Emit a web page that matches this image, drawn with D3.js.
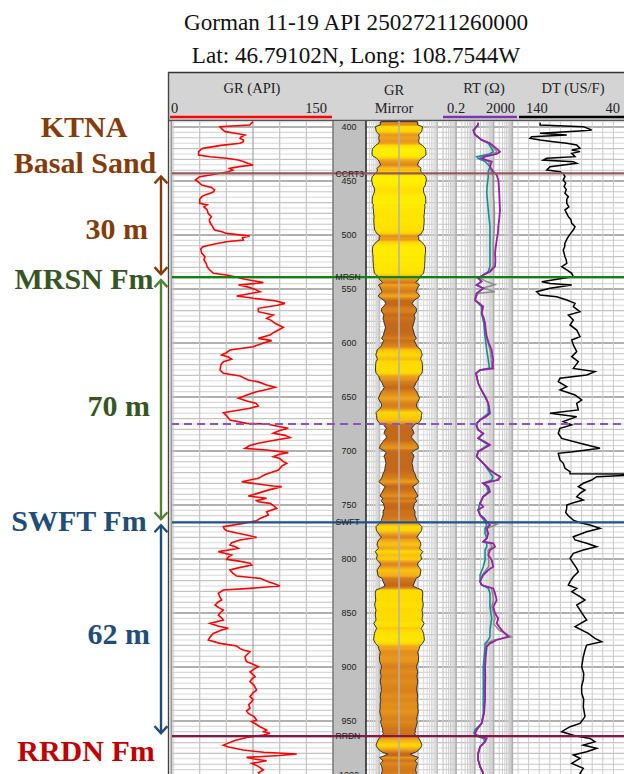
<!DOCTYPE html>
<html><head><meta charset="utf-8">
<script src="https://cdn.jsdelivr.net/npm/d3@7"></script>
<style>body{margin:0;background:#fff;} svg{display:block;}</style>
</head><body>
<svg id="c" width="624" height="774"></svg>
<script>
// ---------------- DATA ----------------
const titleLines = ["Gorman 11-19 API 25027211260000", "Lat: 46.79102N, Long: 108.7544W"];
const depthTicks = [400,450,500,550,600,650,700,750,800,850,900,950,1000];
const formationNames = ["CCRT3","MRSN","SWFT","RRDN"];
const formationDepths = [443, 539, 766, 964];
const markerDepth = 675;
const unitNames = ["KTNA", "Basal Sand", "MRSN Fm", "SWFT Fm", "RRDN Fm"];
const unitThickness = ["30 m", "70 m", "62 m"];
const grRange = [0, 150];
const rtRange = [0.2, 2000];
const dtRange = [140, 40];

// Gamma ray (API) by depth
const grLog = [[395,75],[398.1,72],[399.7,44],[402,46],[404.3,49],[406,60],[407.4,67.5],[409,64],[410.5,63],[412,66],[413.6,66],[415.1,63],[417,45],[419.8,28],[421,26],[422.8,24],[425.9,24],[427.5,35],[429,50],[430.6,61],[432,66],[433.6,70],[435.2,75],[436.7,62],[438.3,53],[440,56],[441.4,52],[442.9,44],[444.5,35],[446,25],[449.1,21],[451,24],[453.7,27],[456,36],[458.3,39],[460,38],[461.4,35],[463,30],[464.5,27],[467,25],[470.7,25],[472.2,32],[474,29],[476.9,32],[480,33],[483,36],[486,34],[489.2,35],[492,37],[495.4,39],[497,46],[498.5,50],[500.9,72],[502.5,65],[504.6,66],[506.2,50],[508.5,38],[510.8,28],[513,26],[517,27],[520,30],[523.1,29],[526,31],[529.3,32],[532,34],[535.5,38],[537,50],[538.6,58],[541,67.5],[544.1,84.7],[546.3,61.3],[547.8,69],[550,76],[552.5,81.6],[556.5,59.7],[558.6,75.3],[560.8,95.6],[563.3,105],[565,98],[567.9,80],[571,80],[574.1,94],[577.2,87.8],[579,92],[581.8,95.6],[585.5,103.4],[588,98.8],[590,95],[592.6,90.9],[595.7,80],[597.8,92.5],[600,85],[603.4,75.3],[606.5,53.4],[609,50],[611.1,45.6],[613,52],[615.1,55],[617.3,47.2],[620,45],[625,44.1],[628.1,47.2],[630.5,62.8],[634.3,70.6],[636,80],[638.9,87.8],[641,95.6],[643,88],[645.1,78.4],[648,70],[651.2,61.3],[654,70],[656,78],[658.3,80],[660.5,72.2],[664.5,47.2],[667,50],[671.3,53.4],[674.4,69],[675,87.8],[677,98],[679,108.1],[681,100],[683.6,94],[685.5,105],[687.6,109.7],[690,95],[692.9,80],[695,72],[697.5,67.5],[699.1,87.8],[701.5,108.1],[703,100],[705.2,94],[707,100],[709.9,103.4],[711.4,106.6],[714,102],[717.6,98.8],[720,92],[722,86],[725.3,80],[728.4,64.4],[730,75],[732.4,94],[733,101.9],[736,90],[739,80],[741.7,70.6],[743.8,87.8],[746,78.4],[747,80],[748.5,90.9],[751,95],[753.1,97.2],[756.2,87.8],[759.3,89.4],[762.4,81.6],[764.5,78.4],[767,66],[770.1,47.2],[772,48],[773.8,50.3],[776,60],[777.8,69],[780,78.4],[782.4,62.8],[785,55],[787.1,53.4],[788.5,58],[790.2,61.3],[793.2,42.5],[796.3,55],[798,52],[800.3,50.3],[802,62],[804,72.2],[805.6,73.8],[808,62],[810.2,53.4],[813,56],[815.8,59.7],[817.9,81.6],[821,89.4],[823,95],[825,100.3],[827.2,72.2],[828.7,47.2],[831.8,42.5],[835,44],[838,45.6],[840,42],[842.6,39.4],[845,43],[847.3,47.2],[850,44],[851.9,42.5],[854,45],[856.5,47.2],[859.6,34.7],[862,42],[864.2,51.9],[866,45],[868.9,37.8],[872,35],[875,33.1],[878.1,44.1],[880.6,59.7],[883,63],[884.3,66],[885.8,72.2],[888,70],[890.5,67.5],[893,68],[895.1,69],[897,74],[899.7,80],[902,76],[904.4,72.2],[907,75],[909,76.9],[911,74],[913.6,72.2],[917,76],[921.3,78.4],[924,75],[927.5,72.2],[930,75],[932.1,73.8],[935,71],[938.3,72.2],[940.5,69],[942.9,70.6],[946,76],[949.1,78.4],[950.6,73.8],[953,78],[955.3,81.6],[958.4,87.8],[960,85],[961.4,90.9],[963,85],[965.2,69],[968,58],[972.3,47.2],[974,52],[976.9,66],[979,85],[980.6,116],[982,100],[983.7,69],[985,75],[986.8,87.8],[989.2,73.8],[992,80],[995.4,84.7],[998,80],[1001,82]];

// Deep resistivity (ohm-m)
const rtDeep = [[396,15],[398,15],[403,8.3],[407,10],[412,23],[415,64],[420,146],[423,219],[425,146],[427.5,35],[429,23],[430.6,43],[432,79],[436.7,64],[441.4,96],[444.4,146],[449,178],[455,190],[461,200],[470,210],[477,219],[485,200],[492,178],[498,170],[505,146],[511,130],[517,119],[523,125],[529,119],[534,64],[537,28],[540,15],[543,23],[546.3,12.5],[549.4,28],[554,12.5],[560.2,10.2],[566.4,28],[572.5,23],[577,30],[581.8,35],[588,38],[594.1,43],[600,55],[606.5,79],[611,85],[615.7,96],[620,90],[623.5,96],[625,19],[628.1,11.5],[632,13],[637.3,15],[642,20],[646.6,28],[651,40],[655.9,52],[660,58],[665.1,64],[668,40],[671.3,19],[675.3,11.5],[680.5,15],[683.6,28],[688.3,15],[691,30],[694.4,64],[697,35],[700.6,15],[705.2,12.5],[711.4,28],[714,40],[717.6,64],[721,120],[723.8,219],[726.9,178],[729.9,28],[733,52],[737.6,64],[742.3,28],[745.4,23],[748.4,19],[751.6,28],[754.6,15],[759.3,19],[762,30],[765.5,43],[768.5,64],[771.6,43],[776.3,52],[780.9,43],[784,28],[785.5,96],[788.6,119],[791.7,64],[796.3,52],[801,79],[807.1,96],[810.2,52],[814.8,28],[821,19],[824.1,23],[827.2,96],[831.8,119],[838,146],[844.2,96],[850.3,119],[855,178],[859.6,146],[865.8,270],[871.9,608],[875,146],[878.1,64],[881.2,43],[890,38],[899.7,35],[910,36],[920,35],[930.6,35],[942.9,31],[952.2,23],[958.4,12.5],[961.4,10.2],[963.6,12.5],[966.1,43],[969.2,35],[973.8,19],[980,15],[986.1,15],[992.3,19],[998.5,28],[1001,25]];
// Medium resistivity (ohm-m)
const rtMedium = [[396,15],[398,15],[403,8.3],[407,10],[412,23],[415,52],[420,79],[423,96],[425,60],[427.5,12.5],[429,15],[432,35],[436.7,64],[441.4,52],[446,52],[455,45],[461,43],[470,48],[477,52],[485,58],[492,64],[505,64],[517,64],[529,64],[534,52],[537,28],[540,15],[543,23],[546.3,12.5],[549.4,28],[554,12.5],[560.2,10],[566.4,23],[572.5,23],[581.8,30],[594.1,35],[606.5,43],[615.7,52],[623.5,60],[625,19],[628.1,11.5],[637.3,15],[646.6,28],[655.9,52],[665.1,52],[671.3,19],[675.3,11.5],[680.5,15],[683.6,28],[688.3,15],[694.4,52],[700.6,15],[705.2,12.5],[711.4,28],[717.6,52],[723.8,90],[726.9,79],[729.9,28],[733,43],[737.6,52],[742.3,28],[748.4,19],[754.6,15],[759.3,19],[765.5,35],[768.5,43],[771.6,35],[776.3,35],[780.9,43],[784,28],[785.5,43],[788.6,43],[791.7,35],[801,35],[807.1,28],[814.8,19],[821,19],[824.1,23],[827.2,52],[831.8,64],[838,64],[844.2,64],[855,79],[865.8,64],[871.9,64],[875,52],[878.1,35],[881.2,35],[899.7,28],[930.6,28],[942.9,28],[952.2,23],[958.4,10],[961.4,9],[963.6,11],[966.1,28],[969.2,35],[973.8,19],[980,15],[986.1,15],[992.3,19],[998.5,28],[1001,25]];
// Shallow resistivity (ohm-m)
const rtShallow = [[396,15],[398,15],[403,9],[407,10],[412,23],[415,60],[420,110],[423,150],[425,100],[427.5,20],[429,18],[432,55],[437,64],[441,75],[446,96],[461,96],[477,110],[492,110],[505,96],[517,96],[529,96],[534,60],[537,28],[540,20],[543,40],[546,119],[549,28],[552.5,119],[554,15],[560,10],[566,26],[572,23],[582,33],[594,40],[606,64],[615,75],[623,80],[625,19],[628,11.5],[637,15],[647,28],[656,52],[665,58],[671,19],[675,11.5],[680,15],[684,28],[688,15],[694,58],[700,15],[705,12.5],[711,28],[718,58],[724,250],[727,130],[730,28],[733,48],[738,58],[742,28],[748,19],[755,15],[760,19],[765,40],[768,150],[772,40],[776,45],[781,43],[784,28],[786,70],[789,80],[792,50],[801,55],[807,55],[815,24],[821,19],[824,23],[827,75],[832,90],[838,100],[844,80],[855,120],[860,100],[866,200],[872,900],[875,100],[878,45],[881,40],[900,32],[931,32],[943,30],[952,23],[958,11],[962,10],[966,35],[969,35],[974,19],[980,15],[986,15],[992,19],[998,28],[1001,25]];

// Sonic (us/ft)
const dtLog = [[396,119],[398.2,119.2],[399.7,78.4],[402.8,70.5],[403.4,78.4],[404.3,94],[405.9,119.2],[407.4,94],[409,127.1],[410.5,128.7],[412,119.2],[413.6,106.7],[415.1,94],[416.7,84.6],[419.8,81.5],[421.3,89.3],[422.8,81.5],[424.4,89.3],[427.5,86.2],[429,112.9],[430.6,116.1],[432.1,87.8],[433.6,84.6],[436.7,109.8],[439.8,112.9],[441.4,100.4],[442.9,97.3],[446,95.7],[449.1,97.3],[452,95],[455,96.5],[458,94.5],[461.4,95.7],[464.5,92.5],[467,94],[470.7,94],[474,92],[476.9,95.7],[480,94],[483,92.5],[486,90],[489.2,89.3],[492.3,86.2],[495.4,87.8],[498,90],[501.5,92.5],[504,94],[507.7,95.7],[511,96],[513.9,97.3],[517,96.5],[520.1,95.7],[523,94.5],[526.2,94],[529.3,98.8],[532.4,94],[535.5,89.3],[538.6,87.8],[540.1,97.3],[543.2,117.6],[544.8,109.8],[546.3,89.3],[549.4,109.8],[552.5,122.4],[555.5,119.2],[557.1,103.5],[560.2,94],[563.3,86.2],[566.4,87.8],[571,81.5],[574.1,92.5],[578.7,87.8],[583.3,90.9],[588,84.6],[594.1,81.5],[597.2,89.3],[601.8,87.8],[608,84.6],[612.6,89.3],[617.3,83.1],[623.5,87.8],[626.5,67.4],[629.6,75.2],[632.7,100.4],[635.8,102],[640.4,94],[643.5,100.4],[648.1,86.2],[652.8,79.9],[655.9,84.6],[662,83.1],[665.1,109.8],[668.2,84.6],[672.8,97.3],[675.9,89.3],[679,100.4],[683.6,102],[688.3,98.8],[692.9,81.5],[697.5,62.6],[700.6,87.8],[702.2,102],[708.3,100.4],[711.4,97.3],[716,95.7],[719.1,90.9],[721,90.9],[721.3,35],[722.5,35],[723.8,65.8],[726.9,70.5],[729.9,78.4],[733,83.1],[736.1,76.8],[739.2,81.5],[742.3,84.6],[745.4,78.4],[748,87.8],[750,94],[753,94],[757,95],[760,92.5],[764,87.8],[766.4,81.5],[768.5,72.1],[771.6,62.6],[774.7,75.2],[779.4,87.8],[782.4,86.2],[785.5,75.2],[788.6,65.8],[791.7,78.4],[794.8,87.8],[799.4,90.9],[804,87.8],[808.7,84.6],[811.8,83.1],[816.4,87.8],[821,90.9],[824.1,92.5],[827.2,84.6],[830.3,89.3],[834.9,81.5],[838,76.8],[842.6,84.6],[847.3,81.5],[851.9,78.4],[856.5,75.2],[862.7,86.2],[868.9,73.7],[873.5,67.4],[876.6,61],[879.7,75.2],[884.3,76.8],[890.5,78.4],[899.7,79.9],[906,78],[912,78.4],[918,80],[924.4,79.9],[930,78],[936.8,78.4],[946,76.8],[952.2,81.5],[955.3,90.9],[959.9,98.8],[963.6,86.2],[966.1,72.1],[969.2,67.4],[972.3,78.4],[975.3,65.8],[978.4,75.2],[981.5,87.8],[984.6,81.5],[989.2,89.3],[993.9,78.4],[998.5,81.5],[1001,80]];

// ---------------- DRAW ----------------
const svg = d3.select("#c");
const TOP = 121, BOT = 774;
const y = d3.scaleLinear().domain([400, 1000]).range([127, 775]);
const xGR = d3.scaleLinear().domain(grRange).range([173, 333]);
const xRT = d3.scaleLog().domain(rtRange).range([443, 518]);
const xMirLog = d3.scaleLog().domain(rtRange).range([366, 443]);
const xDT = d3.scaleLinear().domain(dtRange).range([518, 624]);
const mirrorCx = 399;
const halfW = d3.scaleLinear().domain(grRange).range([31, 5.5]);
const grColor = d3.scaleLinear().domain([20, 48, 60, 75, 95]).range(["#fff200","#ffd800","#f2a81e","#dc861c","#c4691a"]).clamp(true);

const serif = "'Liberation Serif','Times New Roman',serif";
const sans = "'Liberation Sans',Arial,sans-serif";

// titles
svg.selectAll("text.title").data(titleLines).join("text")
  .attr("x", 356).attr("y", (d,i) => 30 + i*33)
  .attr("text-anchor","middle").attr("font-family", serif).attr("font-size", 23.2)
  .attr("fill","#111").text(d => d);

// header
svg.append("rect").attr("x",168).attr("y",72).attr("width",456).attr("height",49).attr("fill","#d4d4d4");
svg.append("line").attr("x1",168).attr("x2",624).attr("y1",72.5).attr("y2",72.5).attr("stroke","#333").attr("stroke-width",1.5);
svg.append("line").attr("x1",168).attr("x2",624).attr("y1",120.5).attr("y2",120.5).attr("stroke","#555").attr("stroke-width",1.5);
const hdr = svg.append("g").attr("font-family", serif).attr("font-size", 14.5).attr("fill","#222");
hdr.append("text").attr("x",252).attr("y",93).attr("text-anchor","middle").text("GR (API)");
hdr.append("text").attr("x",171).attr("y",113).text(grRange[0]);
hdr.append("text").attr("x",327).attr("y",113).attr("text-anchor","end").text(grRange[1]);
hdr.append("text").attr("x",394).attr("y",95).attr("text-anchor","middle").text("GR");
hdr.append("text").attr("x",394).attr("y",113).attr("text-anchor","middle").text("Mirror");
hdr.append("text").attr("x",484).attr("y",93).attr("text-anchor","middle").text("RT (\u03A9)");
hdr.append("text").attr("x",447).attr("y",113).text(rtRange[0]);
hdr.append("text").attr("x",515).attr("y",113).attr("text-anchor","end").text(rtRange[1]);
hdr.append("text").attr("x",573).attr("y",93).attr("text-anchor","middle").text("DT (US/F)");
hdr.append("text").attr("x",526).attr("y",113).text(dtRange[0]);
hdr.append("text").attr("x",620).attr("y",113).attr("text-anchor","end").text(dtRange[1]);
svg.append("line").attr("x1",170).attr("x2",332).attr("y1",117).attr("y2",117).attr("stroke","#ff0000").attr("stroke-width",2.5);
svg.append("line").attr("x1",443).attr("x2",517).attr("y1",117).attr("y2",117).attr("stroke","#7a35b0").attr("stroke-width",2.5);
svg.append("line").attr("x1",519).attr("x2",624).attr("y1",117).attr("y2",117).attr("stroke","#000").attr("stroke-width",2.5);

// tracks background
const body = svg.append("g");
body.append("rect").attr("x",171).attr("y",TOP).attr("width",453).attr("height",BOT-TOP).attr("fill","#fff");
// horizontal grid
const hDepths = d3.range(395, 1001, 5);
const hLine = (g, x1, x2) => g.selectAll("line").data(hDepths).join("line")
  .attr("x1",x1).attr("x2",x2).attr("y1",d=>y(d)).attr("y2",d=>y(d))
  .attr("stroke", d => d%50===0 ? "#b0b0b0" : (d%10===0 ? "#c4c4c4" : "#d8d8d8"))
  .attr("stroke-width", d => d%50===0 ? 1.8 : 1.1);
hLine(body.append("g"), 171, 333);
hLine(body.append("g"), 366, 624);
// GR vertical grid
body.append("g").selectAll("line").data(d3.range(0,151,25)).join("line")
  .attr("x1",d=>xGR(d)).attr("x2",d=>xGR(d)).attr("y1",TOP).attr("y2",BOT)
  .attr("stroke", d=> d===75 ? "#aaaaaa" : "#c6c6c6").attr("stroke-width",1.3);
// log grids (mirror & RT)
const logVals = [];
[0.1,1,10,100,1000].forEach(dec => { for (let k=1;k<10;k++){ const v=k*dec; if (v>=0.2 && v<=2000) logVals.push(v);} });
[[xMirLog,"#d6d6d6","#c0c0c0"],[xRT,"#cccccc","#b0b0b0"]].forEach(([sc,c1,c2]) => {
  body.append("g").selectAll("line").data(logVals).join("line")
    .attr("x1",d=>sc(d)).attr("x2",d=>sc(d)).attr("y1",TOP).attr("y2",BOT)
    .attr("stroke", d => Math.abs(Math.log10(d)-Math.round(Math.log10(d)))<1e-6 ? c2 : c1)
    .attr("stroke-width", d => Math.abs(Math.log10(d)-Math.round(Math.log10(d)))<1e-6 ? 1.6 : 1);
});
// DT grid
body.append("g").selectAll("line").data(d3.range(130,40,-10)).join("line")
  .attr("x1",d=>xDT(d)).attr("x2",d=>xDT(d)).attr("y1",TOP).attr("y2",BOT)
  .attr("stroke","#cacaca").attr("stroke-width",1);

// clip paths
const defs = svg.append("defs");
const addClip = (id,x0,x1) => defs.append("clipPath").attr("id",id).append("rect").attr("x",x0).attr("y",TOP).attr("width",x1-x0).attr("height",BOT-TOP);
addClip("cGR",171,333); addClip("cMir",366,443); addClip("cRT",443,518); addClip("cDT",518,624);

// GR mirror fill
const y0 = y(grLog[0][0]), y1 = y(grLog[grLog.length-1][0]);
const grad = defs.append("linearGradient").attr("id","mg").attr("gradientUnits","userSpaceOnUse")
  .attr("x1",0).attr("x2",0).attr("y1",y0).attr("y2",y1);
grad.selectAll("stop").data(grLog).join("stop")
  .attr("offset", d => (y(d[0])-y0)/(y1-y0)).attr("stop-color", d => grColor(d[1]));
const mirArea = d3.area().y(d=>y(d[0])).x0(d=>mirrorCx-halfW(d[1])).x1(d=>mirrorCx+halfW(d[1]));
body.append("path").datum(grLog).attr("clip-path","url(#cMir)").attr("d",mirArea)
  .attr("fill","url(#mg)").attr("stroke","#222").attr("stroke-width",0.9);
body.append("line").attr("x1",mirrorCx).attr("x2",mirrorCx).attr("y1",TOP).attr("y2",BOT).attr("stroke","#b0b0b0").attr("stroke-width",1.5);

// depth track
body.append("rect").attr("x",333).attr("y",TOP).attr("width",33).attr("height",BOT-TOP).attr("fill","#c0c0c0");
body.append("line").attr("x1",333).attr("x2",333).attr("y1",TOP).attr("y2",BOT).attr("stroke","#555").attr("stroke-width",1);
body.append("line").attr("x1",366).attr("x2",366).attr("y1",TOP).attr("y2",BOT).attr("stroke","#222").attr("stroke-width",1.5);

// curves
const lineOf = (xs) => d3.line().x(d=>xs(d[1])).y(d=>y(d[0]));
body.append("path").datum(grLog).attr("clip-path","url(#cGR)").attr("d",lineOf(xGR))
  .attr("fill","none").attr("stroke","#ff0000").attr("stroke-width",1.6);
[[rtShallow,"#8c8c8c",1.5],[rtMedium,"#119090",1.6],[rtDeep,"#9b1fa6",1.8]].forEach(([data,c,w]) => {
  body.append("path").datum(data).attr("clip-path","url(#cRT)").attr("d",lineOf(xRT))
    .attr("fill","none").attr("stroke",c).attr("stroke-width",w);
});
body.append("path").datum(dtLog).attr("clip-path","url(#cDT)").attr("d",lineOf(xDT))
  .attr("fill","none").attr("stroke","#000").attr("stroke-width",1.5);

// depth labels
body.append("g").selectAll("text").data(depthTicks).join("text")
  .attr("x",349).attr("y",d=>y(d)+3.2).attr("text-anchor","middle")
  .attr("font-family",sans).attr("font-size",9).attr("fill","#222").text(d=>d);

// formation lines
const fmColors = ["#985858","#0e860e","#1f558f","#8a1548"];
body.append("g").selectAll("line").data(formationDepths).join("line")
  .attr("x1",171).attr("x2",624).attr("y1",d=>y(d)).attr("y2",d=>y(d))
  .attr("stroke",(d,i)=>fmColors[i]).attr("stroke-width",2.2);
body.append("line").attr("x1",171).attr("x2",624).attr("y1",y(markerDepth)).attr("y2",y(markerDepth))
  .attr("stroke","#8a55c8").attr("stroke-width",2).attr("stroke-dasharray","8,5");
body.append("g").selectAll("text").data(formationNames).join("text")
  .attr("x",335.5).attr("y",(d,i)=>y(formationDepths[i])+3.2)
  .attr("font-family",sans).attr("font-size",8.6).attr("fill","#222").text(d=>d);

// frame lines
svg.append("line").attr("x1",168.5).attr("x2",168.5).attr("y1",72).attr("y2",774).attr("stroke","#444").attr("stroke-width",1.4);
svg.append("line").attr("x1",171.2).attr("x2",171.2).attr("y1",TOP).attr("y2",774).attr("stroke","#999").attr("stroke-width",1.6);

// left annotations
const ann = svg.append("g").attr("font-family",serif).attr("font-weight","bold").attr("font-size",30);
const brown="#843c0c", dgreen="#375623", lgreen="#548235", blue="#1f4e79", red="#c00000";
ann.append("text").attr("x",84).attr("y",137).attr("text-anchor","middle").attr("fill",brown).text(unitNames[0]);
ann.append("text").attr("x",85).attr("y",173).attr("text-anchor","middle").attr("fill",brown).text(unitNames[1]);
ann.append("text").attr("x",148).attr("y",239).attr("text-anchor","end").attr("fill",brown).text(unitThickness[0]);
ann.append("text").attr("x",84).attr("y",289).attr("text-anchor","middle").attr("fill",dgreen).text(unitNames[2]);
ann.append("text").attr("x",150).attr("y",416).attr("text-anchor","end").attr("fill",dgreen).text(unitThickness[1]);
ann.append("text").attr("x",79).attr("y",531).attr("text-anchor","middle").attr("fill",blue).text(unitNames[3]);
ann.append("text").attr("x",150).attr("y",644).attr("text-anchor","end").attr("fill",blue).text(unitThickness[2]);
ann.append("text").attr("x",86).attr("y",761).attr("text-anchor","middle").attr("fill",red).text(unitNames[4]);

// interval arrows
const arrows = [[formationDepths[0], formationDepths[1], brown],[formationDepths[1], formationDepths[2], lgreen],[formationDepths[2], formationDepths[3], blue]];
const ax = 161;
arrows.forEach(([a,b,c]) => {
  const ya = y(a)+3, yb = y(b)-3;
  const g = svg.append("g").attr("stroke",c).attr("stroke-width",2.4).attr("fill","none");
  g.append("line").attr("x1",ax).attr("x2",ax).attr("y1",ya).attr("y2",yb);
  g.append("polyline").attr("points",`${ax-6.5},${ya+7} ${ax},${ya} ${ax+6.5},${ya+7}`);
  g.append("polyline").attr("points",`${ax-6.5},${yb-7} ${ax},${yb} ${ax+6.5},${yb-7}`);
});
</script>
</body></html>
